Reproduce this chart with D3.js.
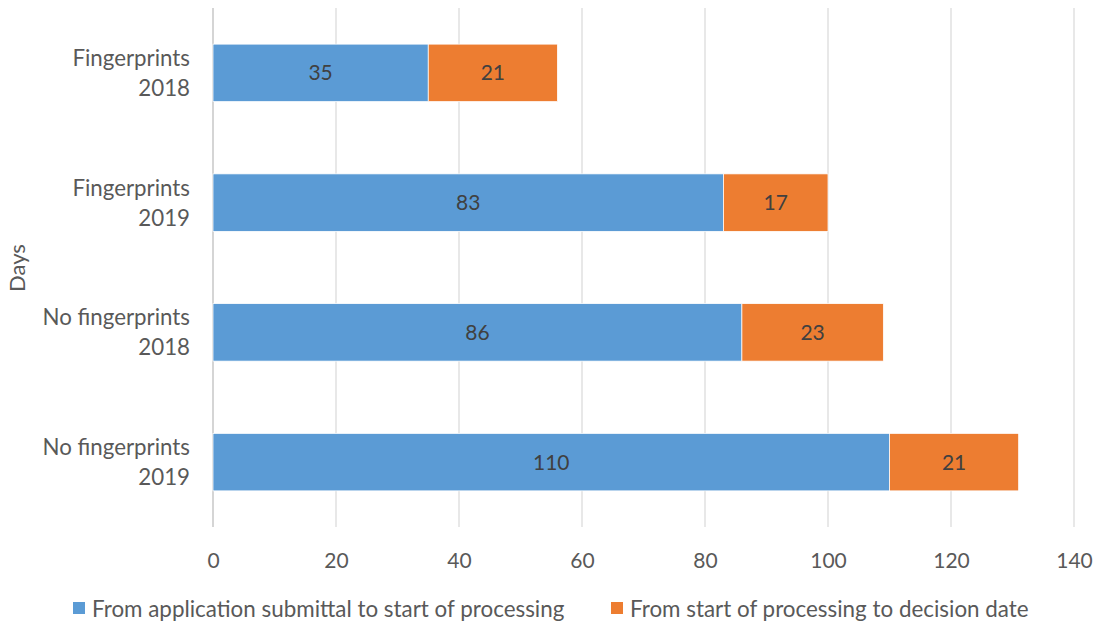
<!DOCTYPE html>
<html><head><meta charset="utf-8">
<script src="https://cdn.jsdelivr.net/npm/d3@7"></script>
<style>
body{margin:0;background:#fff;}
svg{display:block;font-family:Lato,"Open Sans",sans-serif;}
</style></head>
<body>
<svg id="c" width="1099" height="627"></svg>
<script>
const categories = [["Fingerprints","2018"],["Fingerprints","2019"],["No fingerprints","2018"],["No fingerprints","2019"]];
const seriesNames = ["From application submittal to start of processing","From start of processing to decision date"];
const submittalToStart = [35, 83, 86, 110];
const startToDecision = [21, 17, 23, 21];
const xTicks = [0,20,40,60,80,100,120,140];
const colors = ["#5B9BD5","#ED7D31"];

const svg = d3.select("#c");
const x = d3.scaleLinear().domain([0,140]).range([213,1074]);
const keys = categories.map((c,i)=>i);
const y = d3.scaleBand().domain(keys).range([8,527]).paddingInner(0.557).paddingOuter(0.2785);

const textColor = "#595959";
// gridlines
svg.append("g").selectAll("line").data(xTicks.filter(t=>t>0)).join("line")
  .attr("x1",d=>x(d)).attr("x2",d=>x(d)).attr("y1",8).attr("y2",527)
  .attr("stroke","#d9d9d9").attr("stroke-width",1.2);
// axis (bottom ticks labels)
const ax = svg.append("g").attr("transform","translate(0,527)")
  .call(d3.axisBottom(x).tickValues(xTicks).tickSize(0).tickPadding(26));
ax.select(".domain").remove();
ax.selectAll("text").attr("fill",textColor).style("font-size","21px").style("font-family","Lato");
// zero line
svg.append("line").attr("x1",x(0)).attr("x2",x(0)).attr("y1",8).attr("y2",527)
  .attr("stroke","#bfbfbf").attr("stroke-width",1.3);

const stackData = keys.map(i=>({i, a:submittalToStart[i], b:startToDecision[i]}));
const stack = d3.stack().keys(["a","b"])(stackData);
stack.forEach((s,si)=>{
  const g = svg.append("g");
  g.selectAll("rect").data(s).join("rect")
    .attr("x",d=>x(d[0])).attr("width",d=>x(d[1])-x(d[0]))
    .attr("y",d=>y(d.data.i)).attr("height",y.bandwidth())
    .attr("fill",colors[si]).attr("stroke","#fff").attr("stroke-width",0.75);
  g.selectAll("text").data(s).join("text")
    .attr("x",d=>(x(d[0])+x(d[1]))/2).attr("y",d=>y(d.data.i)+y.bandwidth()/2)
    .attr("dy","0.36em").attr("text-anchor","middle")
    .attr("fill","#404040").style("font-size","21px")
    .text(d=>d[1]-d[0]);
});

// category labels
const cl = svg.append("g").selectAll("text").data(keys).join("text")
  .attr("text-anchor","end").attr("fill",textColor).style("font-size","22.3px");
cl.each(function(i){
  const t = d3.select(this);
  const cy = y(i)+y.bandwidth()/2;
  t.append("tspan").attr("x",190).attr("y",cy-15).attr("dy","0.36em").text(categories[i][0]);
  t.append("tspan").attr("x",190).attr("y",cy+15).attr("dy","0.36em").text(categories[i][1]);
});

// y axis title
svg.append("text").attr("transform","translate(25,268) rotate(-90)")
  .attr("text-anchor","middle").attr("fill",textColor).style("font-size","22px").text("Days");

// legend
const leg = [{x:73,tx:92},{x:611,tx:630}];
seriesNames.forEach((n,i)=>{
  svg.append("rect").attr("x",leg[i].x).attr("y",602).attr("width",12).attr("height",12).attr("fill",colors[i]);
  svg.append("text").attr("x",leg[i].tx).attr("y",609).attr("dy","0.36em")
    .attr("fill",textColor).style("font-size","22.4px").text(n);
});
</script>
</body></html>
